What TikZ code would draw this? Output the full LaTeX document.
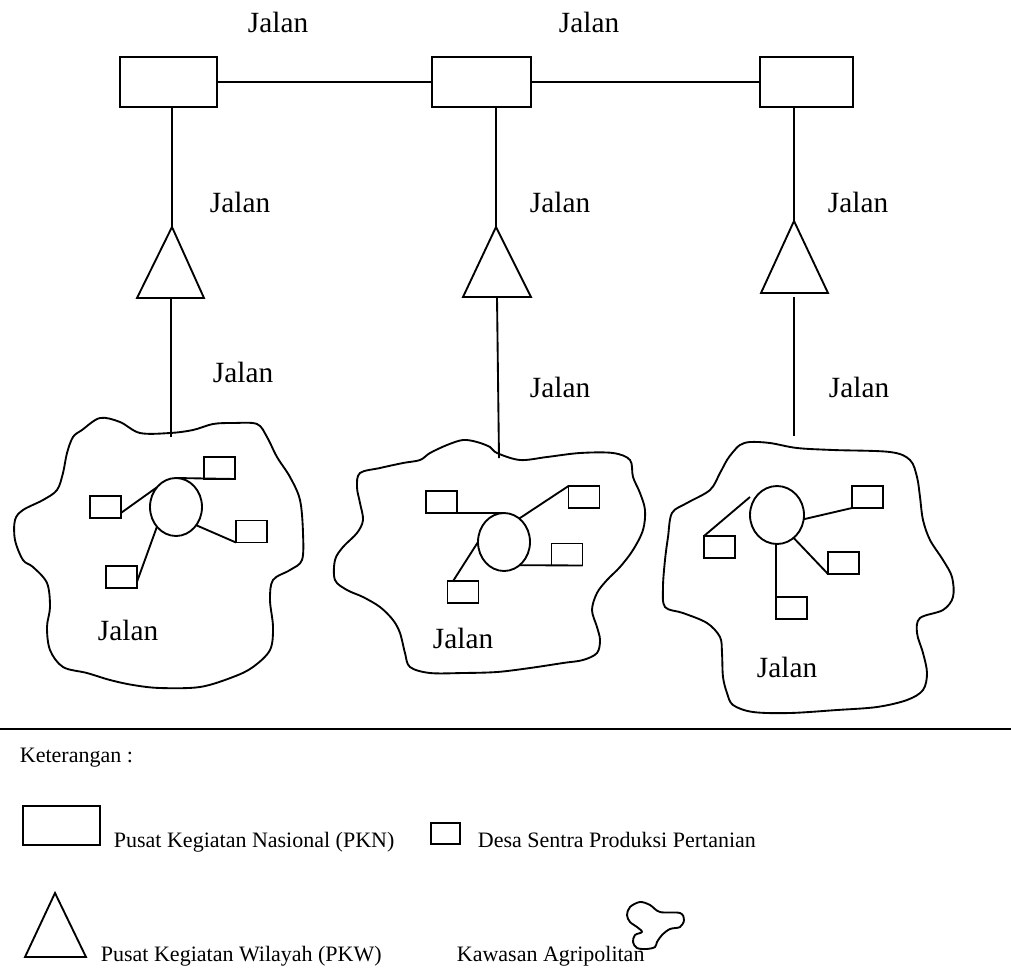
\documentclass[tikz,border=0pt]{standalone}
\usepackage{fontspec}
\setmainfont{Liberation Serif}
\usetikzlibrary{shapes.geometric,calc}
\begin{document}
\begin{tikzpicture}[x=0.75pt,y=-0.75pt,line width=1.4pt,
 pkn/.style={draw,rectangle,inner sep=0pt,outer sep=0pt,minimum width=72.75pt,minimum height=37.5pt},
 desa/.style={draw,rectangle,inner sep=0pt,outer sep=0pt,minimum width=23.25pt,minimum height=16.5pt},
 pusat/.style={draw,ellipse,inner sep=0pt,outer sep=0pt,minimum width=39pt,minimum height=43.5pt},
 pkw/.style={line join=miter},
 lbl/.style={anchor=base west,inner sep=0pt,font=\fontsize{22}{26}\selectfont},
 leg/.style={anchor=base west,inner sep=0pt,font=\fontsize{16.5}{20}\selectfont},
 blob/.style={line width=1.4pt,line join=round}
]
\useasboundingbox (0,0) rectangle (1011,975);

% ---- PKN boxes and top roads
\node[pkn] (n1) at (168.5,82) {};
\node[pkn,minimum width=74.25pt] (n2) at (481.5,82) {};
\node[pkn,minimum width=69.75pt] (n3) at (806.5,82) {};
\draw (n1.east) -- (n2.west);
\draw (n2.east) -- (n3.west);

% ---- PKW triangles
\coordinate (t1a) at (172,227); \coordinate (t1l) at (137,298); \coordinate (t1r) at (204,298);
\coordinate (t2a) at (496,227); \coordinate (t2l) at (463,297); \coordinate (t2r) at (531,297);
\coordinate (t3a) at (794,221); \coordinate (t3l) at (761,293); \coordinate (t3r) at (828,293);
\draw[pkw] (t1a) -- (t1l) -- (t1r) -- cycle;
\draw[pkw] (t2a) -- (t2l) -- (t2r) -- cycle;
\draw[pkw] (t3a) -- (t3l) -- (t3r) -- cycle;
\draw (t1a |- n1.south) -- (t1a);
\draw (t2a |- n2.south) -- (t2a);
\draw (t3a |- n3.south) -- (t3a);

\coordinate (t1b) at (171,298); \coordinate (k1) at (171,437);
\coordinate (t2b) at (497,297); \coordinate (k2) at (499,458);
\coordinate (t3b) at (794,297); \coordinate (k3) at (794,436);
\draw (t1b) -- (k1);
\draw (t2b) -- (k2);
\draw (t3b) -- (k3);

% ---- road labels
\node[lbl] (j1) at (247,32) {Jalan};
\node[lbl] (j2) at (558,32) {Jalan};
\node[lbl] (j3) at (209,212) {Jalan};
\node[lbl] (j4) at (529,212) {Jalan};
\node[lbl] (j5) at (827,212) {Jalan};
\node[lbl] (j6) at (212,382) {Jalan};
\node[lbl] (j7) at (529,397) {Jalan};
\node[lbl] (j8) at (828,397) {Jalan};
\node[lbl] (j9) at (97,640) {Jalan};
\node[lbl] (j10) at (432,648) {Jalan};
\node[lbl] (j11) at (756,677) {Jalan};

% ---- agropolitan areas
\draw[blob] plot[smooth cycle,tension=0.55] coordinates {
(82,430) (100,418) (120,422) (140,433) (170,433) (193,430) (213,424) (233,423) (257,424)
(267,437) (277,457) (290,477) (300,500) (303,533) (302,560) (290,570) (273,580) (270,600)
(273,627) (270,650) (253,667) (233,677) (200,687) (160,688) (133,685) (110,680) (87,673)
(63,667) (50,650) (47,627) (50,607) (47,583) (33,567) (23,560) (15,540) (15,520) (23,510)
(43,500) (57,490) (63,473) (67,453) (73,437)};

\draw[blob] plot[smooth cycle,tension=0.55] coordinates {
(360,473) (380,468) (403,463) (420,460) (430,453) (447,445) (463,440) (477,442) (490,447)
(497,453) (520,460) (547,457) (580,453) (613,453) (630,460) (633,477) (640,493) (645,510)
(643,530) (633,550) (620,567) (607,580) (597,593) (592,610) (597,627) (600,640) (597,653)
(583,660) (563,663) (530,668) (497,672) (463,673) (430,673) (410,667) (405,653) (400,633)
(393,620) (380,607) (363,597) (347,590) (335,580) (335,560) (343,547) (357,533) (363,520)
(360,503) (357,487)};

\draw[blob] plot[smooth cycle,tension=0.55] coordinates {
(733,452) (740,445) (750,442) (770,443) (797,448) (833,450) (890,452) (910,460) (917,477)
(920,497) (923,520) (930,540) (943,560) (952,577) (953,597) (943,610) (920,618) (917,633)
(923,653) (927,673) (923,690) (907,700) (877,707) (837,710) (790,713) (753,712) (733,705)
(727,693) (723,677) (722,653) (720,637) (707,623) (683,613) (665,607) (663,587) (665,560)
(668,537) (672,513) (687,503) (710,490) (720,473) (727,460)};

% ---- area 1
\node[pusat] (c1) at (176,507) {};
\node[desa] (b11) at (219.5,468) {};
\node[desa] (b12) at (105.5,507) {};
\node[desa] (b13) at (251.5,531.5) {};
\node[desa] (b14) at (121.5,577) {};
\draw (c1.north) -- (b11.south east);
\draw (c1.134) -- (b12.-21);
\draw (c1.-42) -- (b13.south west);
\draw (c1.226) -- (b14.-17);

% ---- area 2
\node[pusat] (c2) at (504,542) {};
\node[desa] (b21) at (441.5,502) {};
\node[desa] (b22) at (584,497) {};
\node[desa] (b23) at (567,554.5) {};
\node[desa] (b24) at (463,592) {};
\draw (c2.north) -- (b21.south east);
\draw (c2.57) -- (b22.north west);
\draw (c2.-56) -- (b23.south east);
\draw (c2.west) -- (b24.132);

% ---- area 3
\node[pusat,minimum width=40.5pt] (c3) at (777,515) {};
\node[desa] (b31) at (867.5,497) {};
\node[desa] (b32) at (719.5,547) {};
\node[desa] (b33) at (843.5,563) {};
\node[desa] (b34) at (791.5,608) {};
\coordinate (g3) at (750,497);
\draw (c3.-9) -- (b31.south west);
\draw (g3) -- (b32.north west);
\draw (c3.-54) -- (b33.south west);
\draw (b34.north west |- c3.south) -- (b34.north west);

% ---- separator
\coordinate (sepl) at (0,729); \coordinate (sepr) at (1011,729);
\draw[line width=1.6pt] (sepl) -- (sepr);

% ---- legend
\node[leg] (ket) at (19,762) {Keterangan :};
\node[pkn,minimum width=57.75pt,minimum height=29.25pt] (lpkn) at (61.5,825.5) {};
\node[leg] (tpkn) at (113,847) {Pusat Kegiatan Nasional (PKN)};
\node[desa,minimum width=21.75pt,minimum height=15.75pt] (ldesa) at (445.5,833.5) {};
\node[leg] (tdesa) at (477,847) {Desa Sentra Produksi Pertanian};
\coordinate (lta) at (55,893); \coordinate (ltl) at (25,957); \coordinate (ltr) at (86,957);
\draw[pkw] (lta) -- (ltl) -- (ltr) -- cycle;
\node[leg] (tpkw) at (100,961) {Pusat Kegiatan Wilayah (PKW)};
\node[leg] (tagr) at (456,961) {Kawasan Agripolitan};
\draw[blob] plot[smooth cycle,tension=0.55] coordinates {
(630,907) (640,902) (650,905) (660,912) (680,913) (684,920) (680,927) (670,929) (662,935)
(657,942) (655,947) (647,949) (637,948) (633,942) (635,935) (642,932) (637,927) (630,922) (627,915)};
\end{tikzpicture}
\end{document}
